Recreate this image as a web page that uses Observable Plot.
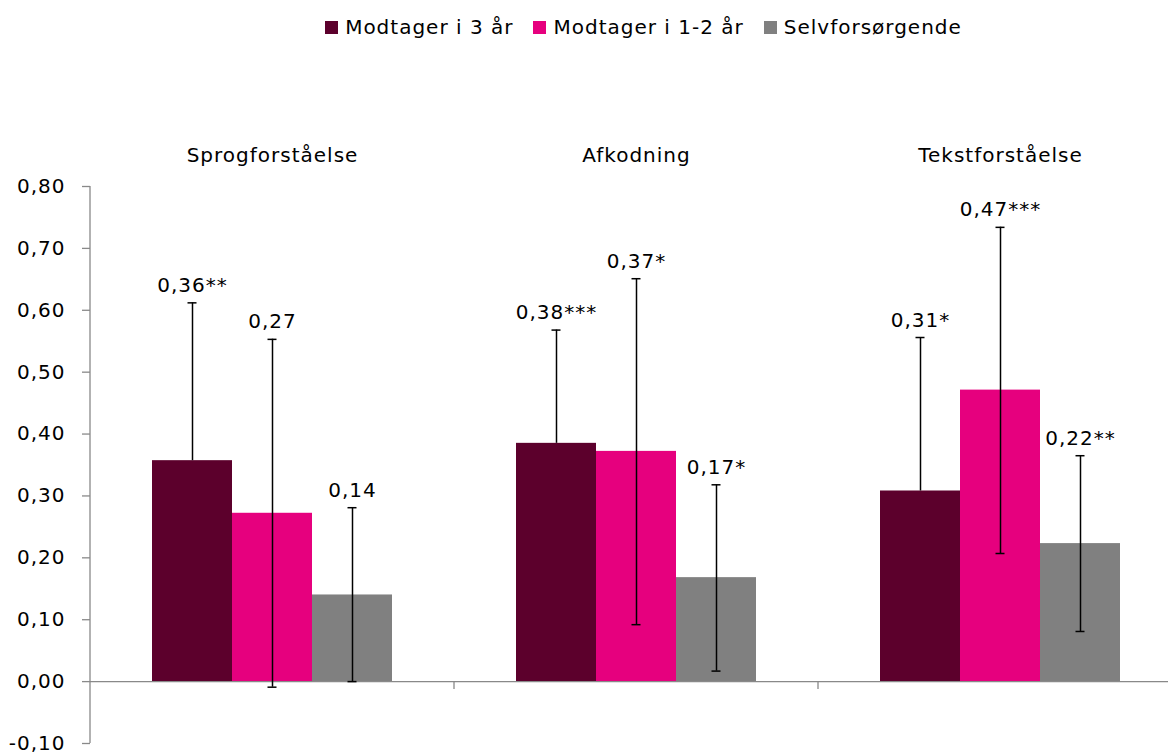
<!DOCTYPE html>
<html><head><meta charset="utf-8">
<script src="https://cdn.jsdelivr.net/npm/d3@7"></script>
<script src="https://cdn.jsdelivr.net/npm/@observablehq/plot@0.6"></script>
<style>
html,body{margin:0;padding:0;background:#fff;overflow:hidden;width:1168px;height:754px;}
#legend{height:54px;width:1168px;box-sizing:border-box;padding-left:119px;display:flex;align-items:center;justify-content:center;gap:20px;font-family:"DejaVu Sans";font-size:20px;letter-spacing:1px;color:#000;}
.item{display:flex;align-items:center;white-space:nowrap;}
.sw{width:13px;height:13px;margin-right:7px;display:inline-block;}
#chart{width:1168px;overflow:hidden;}
#chart svg{max-width:none !important;}
</style>
</head><body>
<div id="legend"></div>
<div id="chart"></div>
<script>
const categories = ["Sprogforståelse", "Afkodning", "Tekstforståelse"];
const series = ["Modtager i 3 år", "Modtager i 1-2 år", "Selvforsørgende"];
const colors = ["#5C002C", "#E6007E", "#808080"];

const valuesM3 = [0.357, 0.385, 0.308];
const valuesM12 = [0.272, 0.372, 0.471];
const valuesSelv = [0.140, 0.168, 0.223];

const upperM3 = [0.612, 0.568, 0.556];
const upperM12 = [0.553, 0.651, 0.734];
const upperSelv = [0.281, 0.318, 0.365];

const lowerM3 = null; // only the upper whisker is shown
const lowerM12 = [-0.009, 0.092, 0.207];
const lowerSelv = [0.000, 0.017, 0.081];

const labelsM3 = ["0,36**", "0,38***", "0,31*"];
const labelsM12 = ["0,27", "0,37*", "0,47***"];
const labelsSelv = ["0,14", "0,17*", "0,22**"];

const yTicks = [-0.1, 0, 0.1, 0.2, 0.3, 0.4, 0.5, 0.6, 0.7, 0.8];

const values = [valuesM3, valuesM12, valuesSelv];
const uppers = [upperM3, upperM12, upperSelv];
const lowers = [lowerM3, lowerM12, lowerSelv];
const labels = [labelsM3, labelsM12, labelsSelv];

const data = categories.flatMap((c, i) => series.map((s, j) => ({
  cat: c, series: s, value: values[j][i], high: uppers[j][i],
  low: lowers[j] ? lowers[j][i] : values[j][i], hasLow: !!lowers[j], label: labels[j][i]
})));

// legend
const legend = document.getElementById("legend");
series.forEach((s, j) => {
  const it = document.createElement("span");
  it.className = "item";
  it.innerHTML = `<span class="sw" style="background:${colors[j]}"></span>${s}`;
  legend.appendChild(it);
});

const axisColor = "#898989";
let facetCount = 0;
function axisLines(index, scales, vals, dimensions) {
  const {marginLeft} = dimensions;
  const g = d3.create("svg:g").attr("stroke", axisColor).attr("stroke-width", 1.3).attr("fill", "none");
  const y0 = scales.y(0);
  if (facetCount++ === 0) {
    g.append("line").attr("x1", marginLeft).attr("x2", marginLeft)
      .attr("y1", scales.y(yTicks[yTicks.length - 1])).attr("y2", scales.y(yTicks[0]));
  } else {
    g.append("line").attr("x1", marginLeft).attr("x2", marginLeft).attr("y1", y0).attr("y2", y0 + 8);
  }
  return g.node();
}

const fmt = d => d.toFixed(2).replace(".", ",").replace("-0,00", "0,00");

const chart = Plot.plot({
  width: 1182, height: 700,
  marginLeft: 90, marginRight: 0, marginTop: 132, marginBottom: 11,
  style: {fontFamily: "DejaVu Sans", fontSize: "20px", letterSpacing: "1px", color: "#000", background: "transparent", overflow: "visible"},
  fx: {domain: categories, padding: 0, axis: "top", tickSize: 0, tickPadding: 25, label: null},
  x: {domain: series, paddingInner: 0, paddingOuter: 0.75, axis: null},
  y: {domain: [-0.1, 0.8], label: null},
  color: {domain: series, range: colors},
  marks: [
    Plot.barY(data, {fx: "cat", x: "series", y: "value", fill: "series"}),
    Plot.ruleY([0], {stroke: axisColor, strokeWidth: 1.3}),
    Plot.ruleX(data, {fx: "cat", x: "series", y1: "low", y2: "high", stroke: "#000", strokeWidth: 1.5}),
    Plot.tickY(data, {fx: "cat", x: "series", y: "high", stroke: "#000", strokeWidth: 1.5, insetLeft: 35.5, insetRight: 35.5}),
    Plot.tickY(data.filter(d => d.hasLow), {fx: "cat", x: "series", y: "low", stroke: "#000", strokeWidth: 1.5, insetLeft: 35.5, insetRight: 35.5}),
    Plot.text(data, {fx: "cat", x: "series", y: "high", text: "label", lineAnchor: "bottom", dy: -11, fill: "#000"}),
    Plot.axisY({ticks: yTicks, tickFormat: fmt, tickSize: 8, tickPadding: 17, stroke: axisColor, fill: "#000", strokeWidth: 1.3, label: null}),
    axisLines
  ]
});
document.getElementById("chart").appendChild(chart);
</script>
</body></html>
